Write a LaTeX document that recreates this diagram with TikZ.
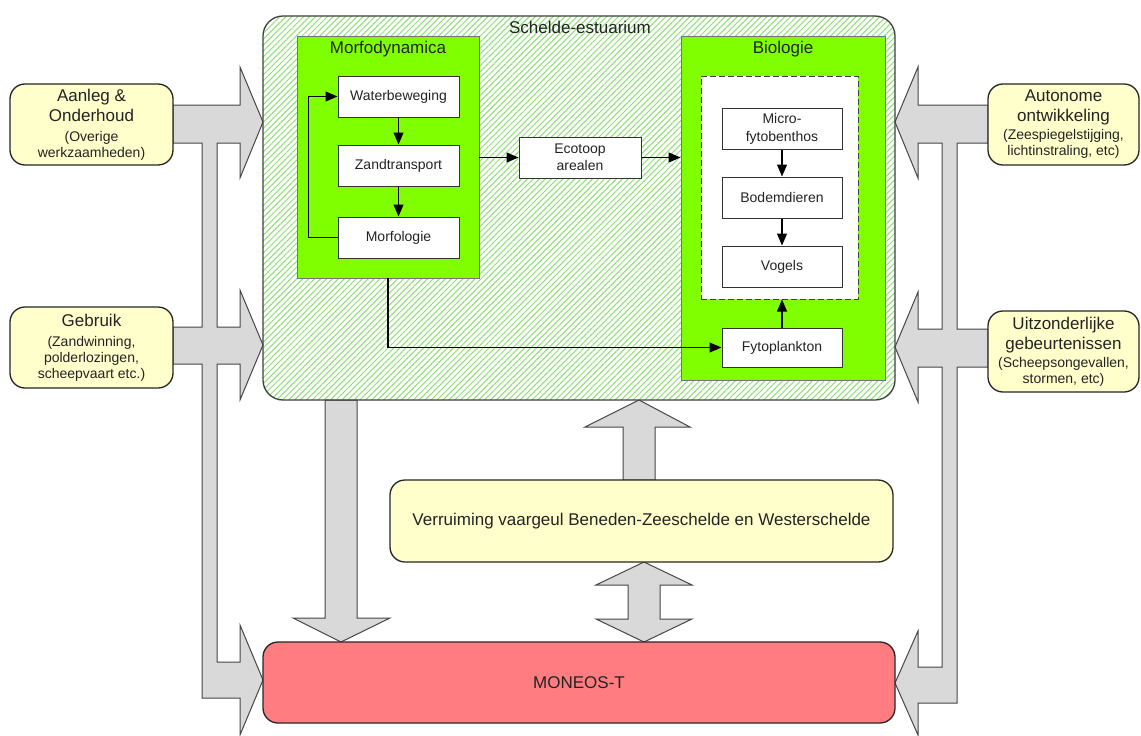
\documentclass[tikz,border=0pt]{standalone}
\usepackage{fontspec}
\setmainfont{Liberation Sans}
\usetikzlibrary{patterns.meta,arrows.meta,calc}
\definecolor{hatchc}{RGB}{140,225,115}
\definecolor{lgreen}{RGB}{128,255,0}
\definecolor{yelc}{RGB}{255,255,204}
\definecolor{monc}{RGB}{255,124,128}
\definecolor{garrc}{RGB}{217,217,217}
\definecolor{glinec}{RGB}{70,70,70}
\definecolor{txtc}{RGB}{35,35,35}
\newcommand\ttl[1]{{\fontsize{17}{20}\selectfont #1}}
\begin{document}
\begin{tikzpicture}[x=1pt,y=-1pt,
  whitebox/.style={draw=black!80, line width=1pt, fill=white, minimum width=121pt, minimum height=41pt, inner sep=0pt, align=center, font=\fontsize{14}{17}\selectfont, text=txtc},
  greenbox/.style={draw=black!55, line width=0.9pt, fill=lgreen, inner sep=0pt},
  yelbox/.style={draw=black!85, line width=1.3pt, fill=yelc, rounded corners=15pt, inner sep=0pt, align=center, font=\fontsize{14}{20}\selectfont, text=txtc},
  title/.style={font=\fontsize{17}{20}\selectfont, text=txtc, inner sep=0pt},
  garr/.style={fill=garrc, draw=glinec, line width=1pt, line join=miter},
  conn/.style={-{Triangle[length=12pt,width=10pt]}, line width=1.1pt, black}]
\fill[white] (0,0) rectangle (1141,736);
\useasboundingbox (0,0) rectangle (1141,736);

% grey block arrows
\draw[garr] (173,105) -- (240,105) -- (240,67) -- (263,122) -- (240,178) -- (240,143) -- (217,143) -- (217,327) -- (240,327) -- (240,290) -- (263,345) -- (240,400) -- (240,364) -- (217,364) -- (217,662) -- (240,662) -- (240,625) -- (263,680) -- (240,735) -- (240,698) -- (202,698) -- (202,364) -- (173,364) -- (173,327) -- (202,327) -- (202,143) -- (173,143) -- cycle;
\draw[garr] (988,105) -- (918,105) -- (918,67) -- (895,122) -- (918,178) -- (918,143) -- (942,143) -- (942,329) -- (918,329) -- (918,292) -- (895,347) -- (918,402) -- (918,367) -- (942,367) -- (942,667) -- (918,667) -- (918,631) -- (895,683) -- (918,735) -- (918,703) -- (957,703) -- (957,367) -- (988,367) -- (988,329) -- (957,329) -- (957,143) -- (988,143) -- cycle;
\draw[garr] (325,400) -- (325,618) -- (293,618) -- (341,642) -- (390,618) -- (357,618) -- (357,400) -- cycle;
\draw[garr] (623,480) -- (623,427) -- (585,427) -- (639,400) -- (690,427) -- (655,427) -- (655,480) -- cycle;
\draw[garr] (628,585) -- (596,585) -- (644,562) -- (692,585) -- (660,585) -- (660,619) -- (692,619) -- (644,642) -- (596,619) -- (628,619) -- cycle;

% main estuary box
\node[draw=black!75, line width=1.3pt, rounded corners=20pt, pattern={Lines[angle=45,distance=4.2pt,line width=1pt]}, pattern color=hatchc, minimum width=632pt, minimum height=384pt, inner sep=0pt] (sch) at (579,208) {};
\node[title] (scht) at (580,27) {Schelde-estuarium};

% Morfodynamica
\node[greenbox, minimum width=182pt, minimum height=242pt] (morf) at (388,157) {};
\node[title] (morft) at (388,49) {Morfodynamica};
\node[whitebox] (water) at (398.5,96.5) {Waterbeweging};
\node[whitebox] (zand) at (398.5,165.5) {Zandtransport};
\node[whitebox] (morfo) at (398.5,237.5) {Morfologie};

% Ecotoop
\node[whitebox, minimum width=122pt] (eco) at (580,157.5) {Ecotoop\\arealen};

% Biologie
\node[greenbox, minimum width=204pt, minimum height=344pt] (bio) at (783,208) {};
\node[title] (biot) at (783,49) {Biologie};
\node[draw=black!75, dash pattern=on 6pt off 3pt, line width=1pt, fill=white, minimum width=157pt, minimum height=223pt, inner sep=0pt] (inner) at (779.5,187.5) {};
\node[whitebox, minimum width=120pt] (micro) at (782,128.5) {Micro-\\[1pt]fytobenthos};
\node[whitebox, minimum width=120pt] (bodem) at (782,197.5) {Bodemdieren};
\node[whitebox, minimum width=120pt] (vogels) at (782,266.5) {Vogels};
\node[whitebox, minimum width=120pt, minimum height=39pt] (fyto) at (782,347.5) {Fytoplankton};

% side boxes
\node[yelbox, minimum width=163pt, minimum height=81pt] (aanleg) at (91.5,124.5) {\ttl{Aanleg \&}\\\ttl{Onderhoud}\\(Overige\\[-4pt]werkzaamheden)};
\node[yelbox, minimum width=163pt, minimum height=81pt] (gebruik) at (91.5,347.5) {\ttl{Gebruik}\\(Zandwinning,\\[-4pt]polderlozingen,\\[-4pt]scheepvaart etc.)};
\node[yelbox, minimum width=151pt, minimum height=81pt] (auto) at (1063.5,124.5) {\ttl{Autonome}\\\ttl{ontwikkeling}\\[-2pt](Zeespiegelstijging,\\[-4pt]lichtinstraling, etc)};
\node[yelbox, minimum width=151pt, minimum height=81pt] (uitz) at (1063.5,351.5) {\ttl{Uitzonderlijke}\\\ttl{gebeurtenissen}\\[-2pt](Scheepsongevallen,\\[-4pt]stormen, etc)};

% bottom boxes
\node[yelbox, minimum width=503pt, minimum height=82pt, font=\fontsize{17}{20}\selectfont] (verr) at (641.5,521) {Verruiming vaargeul Beneden-Zeeschelde en Westerschelde};
\node[yelbox, fill=monc, minimum width=632pt, minimum height=81pt, font=\fontsize{17}{20}\selectfont] (mon) at (579,682.5) {MONEOS-T};

% connectors
\draw[conn] (water) -- (zand);
\draw[conn] (zand) -- (morfo);
\draw[conn] (morfo.west) -- ++(-29,0) |- (water.west);
\draw[conn] (morf.east |- eco.west) -- (eco.west);
\draw[conn] (eco.east) -- (bio.west |- eco.east);
\draw[conn] (morf.south) |- (fyto.west);
\draw[conn] (micro) -- (bodem);
\draw[conn] (bodem) -- (vogels);
\draw[conn] (fyto.north) -- (inner.south -| fyto.north);
\end{tikzpicture}
\end{document}
